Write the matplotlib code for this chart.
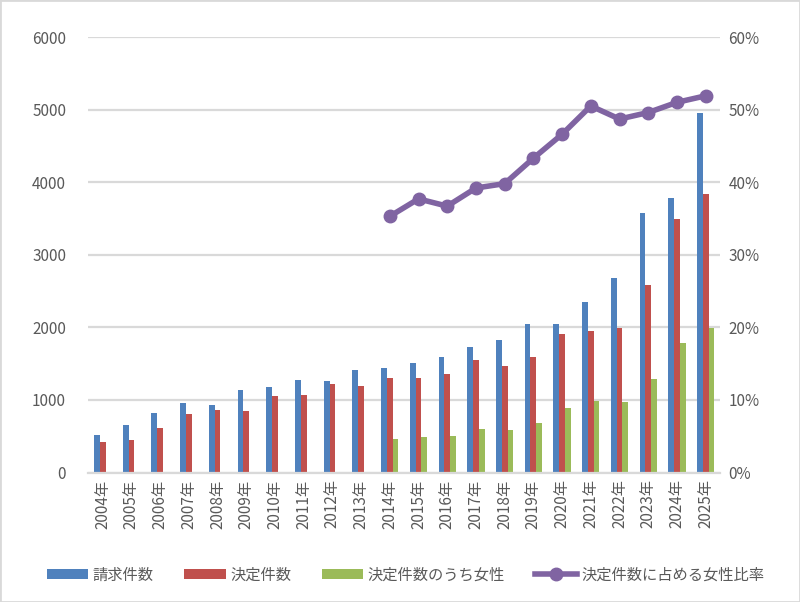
import matplotlib
matplotlib.use("Agg")
import matplotlib.pyplot as plt
import numpy as np
from matplotlib.ticker import FuncFormatter

plt.rcParams['font.family'] = ['Noto Sans CJK JP', 'DejaVu Sans']

years = ["2004年", "2005年", "2006年", "2007年", "2008年", "2009年", "2010年", "2011年",
         "2012年", "2013年", "2014年", "2015年", "2016年", "2017年", "2018年", "2019年",
         "2020年", "2021年", "2022年", "2023年", "2024年", "2025年"]
requests = [515, 652, 817, 955, 927, 1133, 1174, 1270, 1257, 1408, 1446, 1503, 1586, 1723,
            1820, 2053, 2040, 2346, 2676, 3572, 3781, 4950]
decisions = [419, 446, 611, 804, 858, 845, 1051, 1065, 1216, 1188, 1298, 1298, 1353, 1545,
             1463, 1586, 1902, 1946, 1988, 2580, 3490, 3834]
women = [None] * 10 + [462, 490, 504, 597, 583, 680, 886, 982, 968, 1285, 1781, 1990]
ratio = [None] * 10 + [35.3, 37.7, 36.7, 39.2, 39.8, 43.3, 46.6, 50.5, 48.7, 49.6, 51.0, 51.9]

c_blue = "#4F81BD"
c_red = "#C0504D"
c_green = "#9BBB59"
c_purple = "#8064A2"
grid_c = "#D9D9D9"
txt_c = "#595959"

fig = plt.figure(figsize=(8.0, 6.02), dpi=100)
ax = fig.add_axes([0.1104, 0.2151, 0.7896, 0.7234])
ax2 = ax.twinx()

x = np.arange(len(years))
w = 0.2
ax.bar(x - w, requests, w, color=c_blue, label="請求件数", zorder=2)
ax.bar(x, decisions, w, color=c_red, label="決定件数", zorder=2)
wx = [xi for xi, v in zip(x, women) if v is not None]
wv = [v for v in women if v is not None]
ax.bar(np.array(wx) + w, wv, w, color=c_green, label="決定件数のうち女性", zorder=2)

rx = [xi for xi, v in zip(x, ratio) if v is not None]
rv = [v / 100 for v in ratio if v is not None]
ax2.plot(rx, rv, color=c_purple, lw=4, marker="o", ms=9, label="決定件数に占める女性比率",
         zorder=3)

ax.set_xlim(-0.5, len(years) - 0.5)
ax.set_ylim(0, 6000)
ax.set_yticks(range(0, 6001, 1000))
ax2.set_ylim(0, 0.6)
ax2.set_yticks(np.arange(0, 0.61, 0.1))
ax2.yaxis.set_major_formatter(FuncFormatter(lambda v, p: f"{v*100:.0f}%"))

ax.grid(axis="y", color=grid_c, lw=1.6, zorder=0)
ax.set_axisbelow(True)
for a in (ax, ax2):
    for s in a.spines.values():
        s.set_visible(False)
ax.spines["bottom"].set_visible(True)
ax.spines["bottom"].set_color(grid_c)
ax.spines["bottom"].set_linewidth(1.6)

ax.set_xticks(x)
ax.set_xticklabels(years, rotation=90, fontsize=11, color=txt_c)
ax.tick_params(axis="x", length=0, pad=5)
ax.tick_params(axis="y", length=0, pad=16, labelsize=11, labelcolor=txt_c)
ax2.tick_params(axis="y", length=0, pad=6, labelsize=11, labelcolor=txt_c)

h1, l1 = ax.get_legend_handles_labels()
h2, l2 = ax2.get_legend_handles_labels()
fig.legend(h1 + h2, l1 + l2, loc="center", bbox_to_anchor=(0.507, 0.045), ncol=4,
           frameon=False, fontsize=11, handlelength=2.7, handleheight=0.7,
           columnspacing=2.0, handletextpad=0.3, labelcolor=txt_c)

fig.patches.append(plt.Rectangle((0, 0), 1, 1, transform=fig.transFigure, fill=False,
                                 edgecolor=grid_c, lw=2))

fig.savefig("out.png", dpi=100)
